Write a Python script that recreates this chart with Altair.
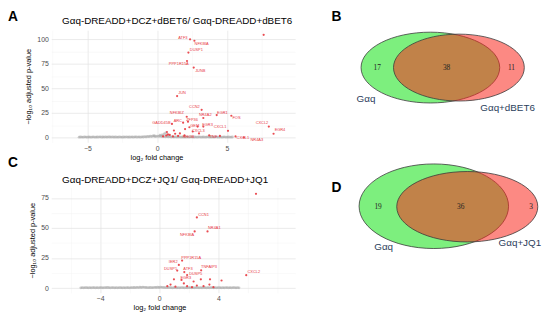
import altair as alt
import pandas as pd

FONT = "Liberation Sans"
RED = "#e8383f"
GREY = "#a9a9a9"

# ---------------- Panel A data ----------------
a_genes = ["ATF3", "NFKBIA", "DUSP1", "PPP1R15A", "JUNB", "JUN", "CCN2", "NFKBIZ",
           "NR4A2", "EGR1", "FOS", "ZFP36", "ARC", "GADD45B", "GEM", "EGR3",
           "CXCL1", "CXCL3", "TNF", "RHOB", "CXCL2", "EGR4", "CXCL1", "NR4A3"]
a_x = [2.36, 2.67, 2.24, 2.14, 2.62, 1.43, 3.19, 2.12, 3.31, 4.27, 5.32, 2.21,
       1.86, 1.06, 2.31, 3.31, 5.08, 2.55, 3.73, 1.96, 8.01, 8.35, 5.62, 6.22]
a_y = [99.7, 98.3, 86.3, 77.7, 71.0, 42.0, 28.0, 21.0, 19.7, 22.7, 22.0, 16.0,
       15.0, 13.7, 10.3, 11.0, 6.7, 6.0, 2.0, 2.0, 11.0, 3.7, 1.0, 0.0]
a_lx = [1.84, 3.19, 2.81, 1.55, 3.09, 1.79, 2.67, 1.41, 3.45, 4.68, 5.69, 2.50,
        1.48, 0.30, 2.69, 3.61, 4.51, 2.95, 4.04, 2.24, 7.52, 8.81, 6.15, 7.15]
a_ly = [101.3, 95.3, 88.7, 74.7, 67.0, 44.7, 31.0, 24.7, 23.0, 24.3, 19.7, 18.0,
        17.0, 14.3, 11.7, 12.7, 10.3, 6.0, 0.3, 0.0, 14.7, 7.0, -0.7, -2.5]
a_ux = [7.64, 0.65, 0.77, 1.29, 1.13, 1.63, 0.42, 0.70, 0.90, 1.50, 2.90, 3.00, 4.50, 1.20, 2.00]
a_uy = [104.3, 2.0, 3.0, 3.7, 1.0, 4.0, 1.0, 5.5, 2.5, 1.5, 11.0, 4.0, 1.5, 7.0, 8.5]
a_grey_x = [-5.6, -5.5, -5.4, -5.3, -5.2, -5.1, -5.0, -4.9, -4.8, -4.7,
            -4.6, -4.5, -4.4, -4.3, -4.2, -4.1, -4.0, -3.9, -3.8, -3.7,
            -3.6, -3.5, -3.4, -3.3, -3.2, -3.1, -3.0, -2.9, -2.8, -2.7,
            -2.6, -2.5, -2.4, -2.3, -2.2, -2.1, -2.0, -1.9, -1.8, -1.7,
            -1.6, -1.5, -1.4, -1.3, -1.2, -1.1, -1.0, -0.9, -0.8, -0.7,
            -0.6, -0.5, -0.4, -0.3, -0.2, -0.1, 0.0, 0.1, 0.2, 0.3,
            0.4, 0.5, 0.6, 0.7, 0.8, 0.9, 1.0, 1.1, 1.2, 1.3,
            1.4, 1.5, 1.6, 1.7, 1.8, 1.9, 2.0, 2.1, 2.2, 2.3,
            2.4, 2.5, 2.6, 2.7, 2.8, 2.9, 3.0, 3.1, 3.2, 3.3,
            3.4, 3.5, 3.6, 3.7, 3.8, 3.9, 4.0, 4.1, 4.2, 4.3,
            4.4, 4.5, 4.6, 4.7, 4.8, 4.9, 5.0, 5.1, 5.2, 5.3,
            5.4, 0.35, 0.5, 0.62, 0.8, -0.2, 0.2]
a_grey_y = [0.2, 0.4, 0.3, 0.2, 0.5, 0.3, 0.2, 0.4, 0.3, 0.2,
            0.5, 0.3, 0.2, 0.4, 0.3, 0.6, 0.2, 0.4, 0.3, 0.5,
            0.2, 0.6, 0.4, 0.3, 0.5, 0.2, 0.4, 0.3, 0.2, 0.5,
            0.3, 0.2, 0.4, 0.3, 0.6, 0.2, 0.4, 0.3, 0.5, 0.2,
            0.6, 0.4, 0.3, 0.5, 0.2, 0.6, 0.4, 0.8, 0.5, 1.0,
            0.7, 1.2, 0.9, 1.5, 1.1, 0.8, 1.3, 1.0, 1.4, 0.9,
            1.2, 0.8, 0.6, 0.9, 0.5, 0.7, 0.4, 0.6, 0.3, 0.5,
            0.4, 0.3, 0.5, 0.2, 0.4, 0.3, 0.2, 0.4, 0.3, 0.2,
            0.5, 0.3, 0.2, 0.4, 0.3, 0.2, 0.5, 0.3, 0.2, 0.4,
            0.3, 0.2, 0.5, 0.3, 0.2, 0.4, 0.3, 0.2, 0.5, 0.3,
            0.2, 0.4, 0.3, 0.2, 0.5, 0.3, 0.2, 0.4, 0.3, 0.2,
            0.4, 2.5, 3.5, 4.5, 2.0, 1.8, 2.2]

# ---------------- Panel C data ----------------
c_genes = ["CCN1", "NR4A1", "NFKBIA", "PPP1R15A", "IER2", "DUSP1", "ATF3",
           "TNFAIP3", "CXCL2", "DUSP5", "EGR3"]
c_x = [2.55, 3.27, 2.40, 1.55, 1.33, 1.22, 1.70, 2.84, 5.89, 1.89, 1.51]
c_y = [58.8, 47.1, 47.1, 22.9, 19.3, 14.6, 13.3, 14.8, 10.7, 10.9, 6.8]
c_lx = [3.00, 3.73, 1.89, 2.17, 0.95, 0.77, 1.95, 3.37, 6.40, 2.47, 1.80]
c_ly = [60.7, 50.3, 44.5, 25.0, 21.6, 15.9, 15.6, 17.7, 13.3, 12.0, 8.6]
c_ux = [6.55, 1.00, 2.33, 2.82, 3.44, 4.22, 3.40, 2.55, 0.77, 0.55, 1.89, 3.00, 3.67, 1.67, 1.10, 2.22]
c_uy = [78.4, 7.3, 5.5, 7.3, 7.3, 6.3, 2.9, 2.1, 2.9, 1.6, 1.6, 1.6, 0.8, 3.9, 1.2, 0.8]
c_grey_x = [-5.3, -5.2, -5.1, -5.0, -4.9, -4.8, -4.7, -4.6, -4.5, -4.4,
            -4.3, -4.2, -4.1, -4.0, -3.9, -3.8, -3.7, -3.6, -3.5, -3.4,
            -3.3, -3.2, -3.1, -3.0, -2.9, -2.8, -2.7, -2.6, -2.5, -2.4,
            -2.3, -2.2, -2.1, -2.0, -1.9, -1.8, -1.7, -1.6, -1.5, -1.4,
            -1.3, -1.2, -1.1, -1.0, -0.9, -0.8, -0.7, -0.6, -0.5, -0.4,
            -0.3, -0.2, -0.1, 0.0, 0.1, 0.2, 0.3, 0.4, 0.5, 0.6,
            0.7, 0.8, 0.9, 1.0, 1.1, 1.2, 1.3, 1.4, 1.5, 1.6,
            1.7, 1.8, 1.9, 2.0, 2.1, 2.2, 2.3, 2.4, 2.5, 2.6,
            2.7, 2.8, 2.9, 3.0, 3.1, 3.2, 3.3, 3.4, 3.5, 3.6,
            3.7, 3.8, 3.9, 4.0, 4.1, 4.2, 4.3, 4.4, 4.5, 4.6,
            4.7, 4.8, 4.9, 5.0, 5.1, 5.2, 5.3, 5.4]
c_grey_y = [0.2, 0.3, 0.2, 0.4, 0.3, 0.2, 0.3, 0.2, 0.4, 0.3,
            0.2, 0.3, 0.2, 0.4, 0.3, 0.2, 0.4, 0.3, 0.5, 0.3,
            0.2, 0.4, 0.3, 0.2, 0.3, 0.2, 0.4, 0.3, 0.2, 0.3,
            0.2, 0.4, 0.3, 0.2, 0.4, 0.3, 0.5, 0.3, 0.6, 0.4,
            0.7, 0.5, 0.8, 0.6, 0.5, 0.4, 0.3, 0.5, 0.3, 0.4,
            0.6, 0.5, 0.7, 0.5, 0.8, 0.6, 0.5, 0.4, 0.3, 0.5,
            0.4, 0.3, 0.2, 0.3, 0.4, 0.2, 0.3, 0.2, 0.4, 0.3,
            0.2, 0.3, 0.2, 0.4, 0.3, 0.2, 0.3, 0.2, 0.4, 0.3,
            0.2, 0.3, 0.2, 0.4, 0.3, 0.2, 0.3, 0.2, 0.4, 0.3,
            0.2, 0.3, 0.2, 0.4, 0.3, 0.2, 0.3, 0.2, 0.4, 0.3,
            0.2, 0.3, 0.2, 0.4, 0.3, 0.2, 0.3, 0.2]

# ---------------- Venn data (shared unit system for both diagrams) ----------------
vb_cx = [97.5, 126.5]
vb_cy = [38.0, 38.0]
vb_rx = [70.5, 66.5]
vb_ry = [36.0, 34.0]
vb_counts = ["17", "38", "11"]
vb_count_x = [43.5, 114.0, 180.0]
vb_count_y = [38.0, 38.0, 38.0]
vb_sets = ["Gαq", "Gαq+dBET6"]
vb_set_x = [32.0, 176.0]
vb_set_y = [70.0, 79.0]

vd_cx = [101.0, 135.0]
vd_cy = [179.0, 179.5]
vd_rx = [76.0, 71.7]
vd_ry = [43.0, 35.8]
vd_counts = ["19", "36", "3"]
vd_count_x = [44.3, 128.3, 200.0]
vd_count_y = [179.7, 179.7, 179.7]
vd_sets = ["Gαq", "Gαq+JQ1"]
vd_set_x = [50.0, 188.5]
vd_set_y = [221.0, 216.0]

venn_fill = ["#12e214", "#fa281e"]


def grid_axis(values, major, title, **kw):
    test = "indexof([" + ",".join(str(v) for v in major) + "], datum.value) >= 0"
    return alt.Axis(
        values=values,
        labelExpr=f"{test} ? datum.label : ''",
        grid=True,
        gridColor={"condition": {"test": test, "value": "#e2e2e2"}, "value": "#efefef"},
        gridWidth={"condition": {"test": test, "value": 0.7}, "value": 0.4},
        domain=False, ticks=False,
        labelFont=FONT, labelFontSize=7, labelColor="#4d4d4d",
        titleFont=FONT, titleFontSize=7.5, titleFontWeight="normal", titleColor="black",
        title=title, **kw)


def volcano(letter, title, title_y, genes, gx, gy, glx, gly, ux, uy, grx, gry,
            xdom, ydom, xvals, xmajor, yvals, ymajor, height, letter_y, xtitle_x):
    sig = pd.DataFrame({"x": list(gx) + list(ux), "y": list(gy) + list(uy)})
    lab = pd.DataFrame({"gene": genes, "x": glx, "y": gly})
    grey = pd.DataFrame({"x": grx, "y": gry})
    xs = alt.Scale(domain=xdom, nice=False, zero=False)
    ys = alt.Scale(domain=ydom, nice=False, zero=False)
    xax = grid_axis(xvals, xmajor, "log₂ fold change", labelPadding=2,
                    titlePadding=2, titleX=xtitle_x, titleAlign="center")
    yax = grid_axis(yvals, ymajor, "−log₁₀ adjusted p-value", labelPadding=3, titlePadding=4)
    enc = dict(x=alt.X("x:Q", scale=xs, axis=xax), y=alt.Y("y:Q", scale=ys, axis=yax))
    base_grey = alt.Chart(grey).mark_circle(size=8, color=GREY, opacity=0.6).encode(**enc)
    pts = alt.Chart(sig).mark_circle(size=5, color=RED, opacity=0.9).encode(**enc)
    txt = alt.Chart(lab).mark_text(fontSize=4, color=RED, font=FONT).encode(
        text="gene:N", **enc)
    let = alt.Chart(pd.DataFrame({"t": [letter]})).mark_text(
        fontSize=14, fontWeight="bold", font=FONT, align="left", baseline="top",
        color="black").encode(text="t:N", x=alt.value(-44), y=alt.value(letter_y))
    ttl = alt.Chart(pd.DataFrame({"t": [title]})).mark_text(
        fontSize=10, font=FONT, align="left", baseline="alphabetic",
        color="black").encode(text="t:N", x=alt.value(11), y=alt.value(title_y))
    return alt.layer(base_grey, pts, txt, let, ttl).properties(width=248, height=height)


def venn(letter, letter_y, cx, cy, rx, ry, counts, count_x, count_y,
         sets, set_x, set_y, ydom, height):
    xs = alt.Scale(domain=[0, 205], nice=False, zero=False)
    ys = alt.Scale(domain=ydom, nice=False, zero=False, reverse=True)
    paths, sizes = [], []
    for a, b in zip(rx, ry):
        r = b / a
        paths.append(f"M-1,0A1,{r:.4f} 0 1,0 1,0A1,{r:.4f} 0 1,0 -1,0Z")
        sizes.append((2 * a) ** 2)
    df = pd.DataFrame({"x": cx, "y": cy, "path": paths, "size": sizes, "fill": venn_fill})
    enc = dict(x=alt.X("x:Q", scale=xs, axis=None), y=alt.Y("y:Q", scale=ys, axis=None))
    ell = alt.Chart(df).mark_point(filled=True, opacity=1, fillOpacity=0.55,
                                   stroke="#3a3a3a", strokeOpacity=1,
                                   strokeWidth=0.8).encode(
        shape=alt.Shape("path:N", scale=None, legend=None),
        size=alt.Size("size:Q", scale=None, legend=None),
        fill=alt.Fill("fill:N", scale=None, legend=None), **enc)
    cnt = alt.Chart(pd.DataFrame({"t": counts, "x": count_x, "y": count_y})).mark_text(
        font="Liberation Serif", fontSize=7.5, color="#222222").encode(text="t:N", **enc)
    sl = alt.Chart(pd.DataFrame({"t": sets, "x": set_x, "y": set_y})).mark_text(
        font=FONT, fontSize=10, color="#2b3e5b").encode(text="t:N", **enc)
    let = alt.Chart(pd.DataFrame({"t": [letter]})).mark_text(
        fontSize=14, fontWeight="bold", font=FONT, align="left", baseline="top",
        color="black").encode(text="t:N", x=alt.value(-3), y=alt.value(letter_y))
    return alt.layer(ell, cnt, sl, let).properties(width=205, height=height)


A = volcano("A", "Gαq-DREADD+DCZ+dBET6/ Gαq-DREADD+dBET6", -6,
            a_genes, a_x, a_y, a_lx, a_ly, a_ux, a_uy, a_grey_x, a_grey_y,
            [-7.6, 9.9], [-5, 109], [-7.5, -5, -2.5, 0, 2.5, 5, 7.5], [-5, 0, 5],
            [0, 12.5, 25, 37.5, 50, 62.5, 75, 87.5, 100], [0, 25, 50, 75, 100],
            114, -20, 107)
C = volcano("C", "Gαq-DREADD+DCZ+JQ1/ Gαq-DREADD+JQ1", -5,
            c_genes, c_x, c_y, c_lx, c_ly, c_ux, c_uy, c_grey_x, c_grey_y,
            [-7.3, 9.2], [-3.9, 83.6], [-6, -4, -2, 0, 2, 4, 6, 8], [-4, 0, 4],
            [0, 12.5, 25, 37.5, 50, 62.5, 75], [0, 25, 50, 75],
            107, -32, 110)
B = venn("B", -20, vb_cx, vb_cy, vb_rx, vb_ry, vb_counts, vb_count_x, vb_count_y,
         vb_sets, vb_set_x, vb_set_y, [0, 114], 114)
D = venn("D", -6, vd_cx, vd_cy, vd_rx, vd_ry, vd_counts, vd_count_x, vd_count_y,
         vd_sets, vd_set_x, vd_set_y, [160, 267], 107)

chart = alt.concat(A, B, C, D, columns=2, spacing={"row": 46, "column": 40},
                   bounds="flush").properties(
    padding=0, background="white").configure_view(stroke=None)

chart.save("out.html", embed_options={"renderer": "svg", "actions": False})
